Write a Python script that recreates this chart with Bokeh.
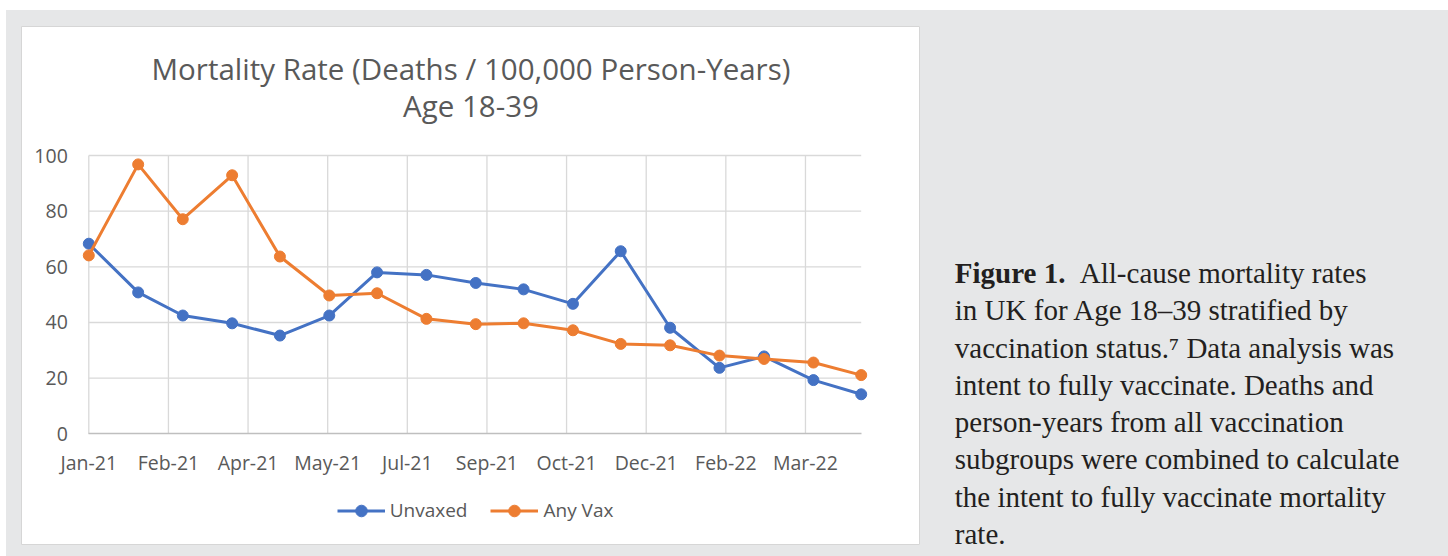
import pandas as pd
from bokeh.plotting import figure
from bokeh.layouts import row
from bokeh.models import Range1d, FixedTicker, Label, Legend, LegendItem
from bokeh.embed import file_html
from bokeh.resources import INLINE

# ---------------- data ----------------
months = ["2021-01-01", "2021-02-01", "2021-03-01", "2021-04-01", "2021-05-01",
          "2021-06-01", "2021-07-01", "2021-08-01", "2021-09-01", "2021-10-01",
          "2021-11-01", "2021-12-01", "2022-01-01", "2022-02-01", "2022-03-01",
          "2022-04-01", "2022-05-01"]
unvaxed = [68.3, 50.8, 42.5, 39.7, 35.3, 42.5, 58.0, 57.1, 54.2, 51.9,
           46.7, 65.6, 38.1, 23.7, 27.8, 19.3, 14.2]
any_vax = [64.1, 96.8, 77.1, 92.9, 63.7, 49.7, 50.5, 41.3, 39.4, 39.7,
           37.2, 32.3, 31.8, 28.1, 26.9, 25.6, 21.1]
series_names = ["Unvaxed", "Any Vax"]

x_tick_dates = ["2021-01-01", "2021-02-20", "2021-04-11", "2021-05-31", "2021-07-20",
                "2021-09-08", "2021-10-28", "2021-12-17", "2022-02-05", "2022-03-27"]
x_tick_labels = ["Jan-21", "Feb-21", "Apr-21", "May-21", "Jul-21",
                 "Sep-21", "Oct-21", "Dec-21", "Feb-22", "Mar-22"]
y_ticks = [0, 20, 40, 60, 80, 100]
y_min, y_max = 0, 100

title_lines = ["Mortality Rate (Deaths / 100,000 Person-Years)", "Age 18-39"]
caption_bold = "Figure 1."
caption_first = "All-cause mortality rates"
caption_lines = ["in UK for Age 18\u201339 stratified by",
                 "vaccination status.\u2077 Data analysis was",
                 "intent to fully vaccinate. Deaths and",
                 "person-years from all vaccination",
                 "subgroups were combined to calculate",
                 "the intent to fully vaccinate mortality",
                 "rate."]


def to_ms(dates):
    return list((pd.to_datetime(dates) - pd.Timestamp("1970-01-01")) / pd.Timedelta(milliseconds=1))


x_ms = to_ms(months)
tick_ms = [int(v) for v in to_ms(x_tick_dates)]
x_start, x_end = x_ms[0], x_ms[-1]

# ---------------- layout (page pixels) ----------------
PAGE_W, PAGE_H = 1448, 556
OX, OY = 6, 10                      # white strip left / top
PANEL_L, PANEL_T, PANEL_R, PANEL_B = 21, 26, 920, 544
PLOT_L, PLOT_R, PLOT_T, PLOT_B = 88.3, 860.7, 155.0, 433.3
FIG_H = PAGE_H - OY
CHART_W = PANEL_R - OX
CAP_W = PAGE_W - PANEL_R

ppx = (PLOT_R - PLOT_L) / (x_end - x_start)
xr = Range1d(x_start - (PLOT_L - PANEL_L) / ppx, x_end + (PANEL_R - PLOT_R) / ppx)
ppy = (PLOT_B - PLOT_T) / (y_max - y_min)
yr = Range1d(y_min - (PANEL_B - PLOT_B) / ppy, y_max + (PLOT_T - PANEL_T) / ppy)

BG = "#e6e7e8"
BLUE = "#4472C4"
ORANGE = "#ED7D31"
GRID = "#d9d9d9"
TXT = "#595959"
FONT = "Open Sans"

p = figure(width=CHART_W, height=FIG_H, x_axis_type="datetime", x_range=xr, y_range=yr,
           output_backend="svg", toolbar_location=None,
           min_border_left=PANEL_L - OX, min_border_right=0,
           min_border_top=PANEL_T - OY, min_border_bottom=PAGE_H - PANEL_B,
           border_fill_color=BG, background_fill_color="white",
           outline_line_color="#d6d6d6", outline_line_width=1)
p.xgrid.visible = False
p.ygrid.visible = False

# grid lines limited to the plot area
p.segment(x0=tick_ms, y0=[y_min] * len(tick_ms), x1=tick_ms, y1=[y_max] * len(tick_ms),
          line_color=GRID, line_width=1.3)
hy = [t for t in y_ticks if t != y_min]
p.segment(x0=[x_start] * len(hy), y0=hy, x1=[x_end] * len(hy), y1=hy,
          line_color=GRID, line_width=1.3)

# axes placed inside the frame
xa = p.xaxis[0]
xa.fixed_location = y_min
xa.bounds = (x_start, x_end)
xa.ticker = FixedTicker(ticks=tick_ms)
xa.major_label_overrides = {t: lab for t, lab in zip(tick_ms, x_tick_labels)}
xa.axis_line_color = "#bfbfbf"
xa.axis_line_width = 1.5
xa.major_tick_line_color = None
xa.minor_tick_line_color = None
xa.major_label_standoff = 9

ya = p.yaxis[0]
ya.fixed_location = x_start
ya.bounds = (y_min, y_max)
ya.ticker = FixedTicker(ticks=y_ticks)
ya.axis_line_color = None
ya.major_tick_line_color = None
ya.minor_tick_line_color = None
ya.major_label_standoff = 15

for ax in (xa, ya):
    ax.major_label_text_font = FONT
    ax.major_label_text_font_size = "19.5px"
    ax.major_label_text_color = TXT

# series
bl = p.line(x_ms, unvaxed, line_color=BLUE, line_width=3)
bs = p.scatter(x_ms, unvaxed, size=11, fill_color=BLUE, line_color=BLUE)
ol = p.line(x_ms, any_vax, line_color=ORANGE, line_width=3)
os_ = p.scatter(x_ms, any_vax, size=11, fill_color=ORANGE, line_color=ORANGE)

legend = Legend(items=[LegendItem(label=series_names[0], renderers=[bl, bs]),
                       LegendItem(label=series_names[1], renderers=[ol, os_])],
                orientation="horizontal", location=(336.7 - PANEL_L, PANEL_B - 524.5),
                glyph_width=48, glyph_height=29, label_standoff=5, spacing=23,
                padding=0, margin=0, border_line_color=None, background_fill_alpha=0,
                label_text_font=FONT, label_text_font_size="19px", label_text_color=TXT)
p.add_layout(legend)

# title (two lines, centred on the panel)
cx = (PANEL_R - PANEL_L) / 2
for text, cy in zip(title_lines, [68, 105]):
    p.add_layout(Label(x=cx, y=PANEL_B - cy, x_units="screen", y_units="screen", text=text,
                       text_align="center", text_baseline="middle", text_font=FONT,
                       text_font_size="29.5px", text_color=TXT))

# ---------------- caption panel ----------------
c = figure(width=CAP_W, height=FIG_H, output_backend="svg", toolbar_location=None,
           x_axis_location=None, y_axis_location=None,
           min_border_left=0, min_border_right=0, min_border_top=0, min_border_bottom=0,
           border_fill_color=BG, background_fill_color=BG, outline_line_color=None)
c.xgrid.visible = False
c.ygrid.visible = False

CAP_X = 954.3 - PANEL_R
CAP_X2 = 1079.3 - PANEL_R
BASE0 = 284.5
STEP = 37.25
CAP_COL = "#231f20"
SERIF = "Liberation Serif"
CAP_SIZE = "29px"
c.add_layout(Label(x=CAP_X, y=PAGE_H - BASE0, x_units="screen", y_units="screen",
                   text=caption_bold, text_font=SERIF, text_font_style="bold",
                   text_font_size=CAP_SIZE, text_color=CAP_COL, text_baseline="alphabetic"))
c.add_layout(Label(x=CAP_X2, y=PAGE_H - BASE0, x_units="screen", y_units="screen",
                   text=caption_first, text_font=SERIF,
                   text_font_size=CAP_SIZE, text_color=CAP_COL, text_baseline="alphabetic"))
for i, line in enumerate(caption_lines, start=1):
    c.add_layout(Label(x=CAP_X, y=PAGE_H - (BASE0 + i * STEP), x_units="screen",
                       y_units="screen", text=line, text_font=SERIF,
                       text_font_size=CAP_SIZE, text_color=CAP_COL, text_baseline="alphabetic"))

layout = row(p, c, spacing=0, margin=(OY, 0, 0, OX), styles={"background-color": BG})
open("out.html", "w").write(file_html(layout, INLINE))
